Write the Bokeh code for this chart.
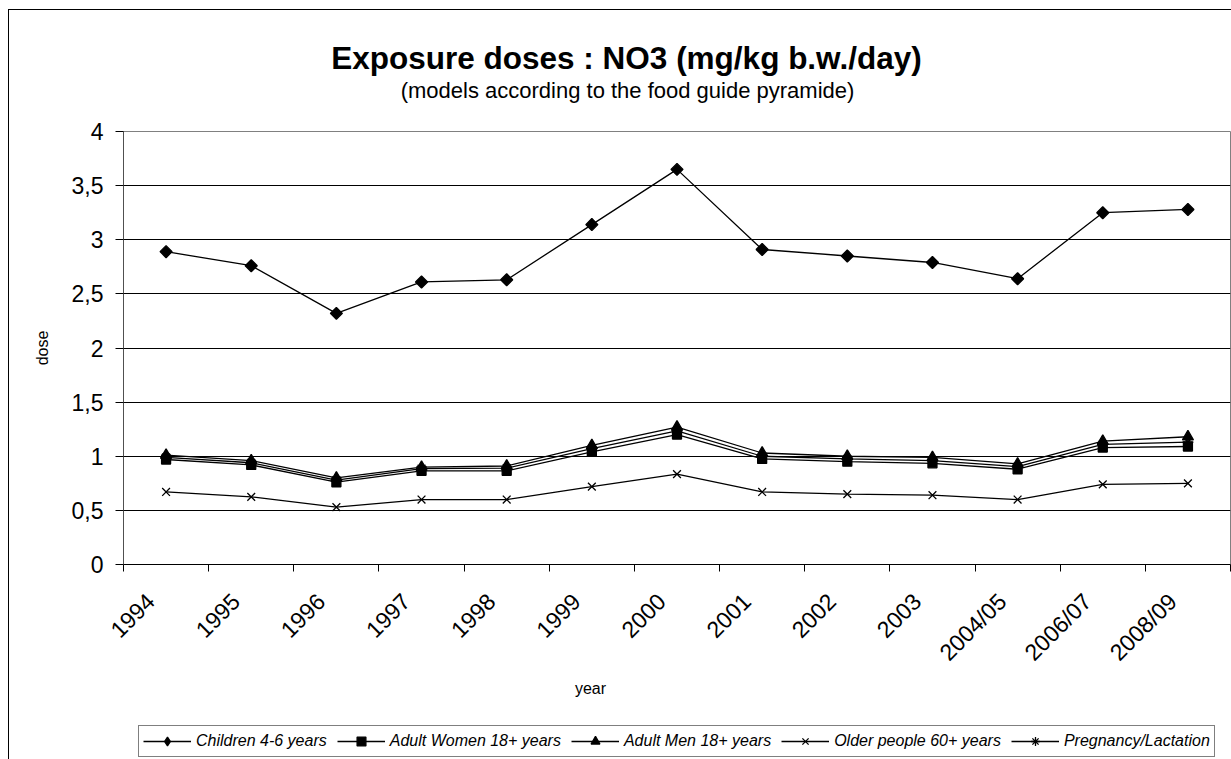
import math
from bokeh.plotting import figure
from bokeh.layouts import column
from bokeh.models import (Legend, LegendItem, FixedTicker, Range1d, Label)
from bokeh.embed import file_html
from bokeh.resources import INLINE

# ---- data ----
categories = ["1994", "1995", "1996", "1997", "1998", "1999", "2000", "2001",
              "2002", "2003", "2004/05", "2006/07", "2008/09"]
children = [2.89, 2.76, 2.32, 2.61, 2.63, 3.14, 3.65, 2.91, 2.85, 2.79, 2.64, 3.25, 3.28]
adult_women = [0.97, 0.92, 0.76, 0.865, 0.865, 1.04, 1.20, 0.975, 0.95, 0.935, 0.88, 1.08, 1.09]
adult_men = [1.01, 0.96, 0.80, 0.90, 0.91, 1.10, 1.27, 1.03, 1.00, 0.99, 0.93, 1.14, 1.18]
older_people = [0.67, 0.625, 0.53, 0.60, 0.60, 0.72, 0.835, 0.67, 0.65, 0.64, 0.60, 0.74, 0.75]
pregnancy = [0.99, 0.94, 0.78, 0.885, 0.89, 1.07, 1.235, 1.00, 0.975, 0.96, 0.905, 1.11, 1.13]

series_names = ["Children 4-6 years", "Adult Women 18+ years", "Adult Men 18+ years",
                "Older people 60+ years", "Pregnancy/Lactation"]
y_tick_values = [0, 0.5, 1, 1.5, 2, 2.5, 3, 3.5, 4]
y_tick_labels = ["0", "0,5", "1", "1,5", "2", "2,5", "3", "3,5", "4"]

title_text = "Exposure doses : NO3 (mg/kg b.w./day)"
subtitle_text = "(models according to the food guide pyramide)"
x_title = "year"
y_title = "dose"

FONT = "Liberation Sans"
W = 1231
TOP_H, MAIN_H, BOT_H = 117, 560, 82
LABEL_SHIFT = -0.18   # rotated category labels sit slightly left of the category centre

xs = [i + 0.5 for i in range(len(categories))]
all_series = [children, adult_women, adult_men, older_people, pregnancy]

# ---------- header (title + subtitle); frames of the column are aligned at x=123 ----------
top = figure(width=W, height=TOP_H, output_backend="svg", toolbar_location=None,
             x_range=Range1d(0, 1), y_range=Range1d(0, 1),
             x_axis_type=None, y_axis_type=None,
             min_border=0, min_border_left=0, min_border_right=0,
             min_border_top=0, min_border_bottom=0)
top.outline_line_color = None
top.background_fill_color = None
top.border_fill_color = None
top.add_layout(Label(x=503, y=60, x_units="screen", y_units="screen", text=title_text,
                     text_align="center", text_baseline="middle", text_font=FONT,
                     text_font_size="31.5px", text_font_style="bold", text_color="black"))
top.add_layout(Label(x=504, y=27, x_units="screen", y_units="screen", text=subtitle_text,
                     text_align="center", text_baseline="middle", text_font=FONT,
                     text_font_size="22px", text_color="black"))

# ---------- main chart ----------
p = figure(width=W, height=MAIN_H, output_backend="svg", toolbar_location=None,
           x_range=Range1d(0, len(categories)), y_range=Range1d(0, 4),
           min_border_left=123, min_border_top=14, min_border_bottom=113,
           min_border_right=1)
p.background_fill_color = "white"
p.border_fill_color = None
p.outline_line_color = "#808080"
p.outline_line_width = 1

label_pos = [x + LABEL_SHIFT for x in xs]
xa = p.xaxis[0]
xa.ticker = FixedTicker(ticks=label_pos, minor_ticks=list(range(len(categories) + 1)))
xa.major_label_overrides = {x: c for x, c in zip(label_pos, categories)}
xa.major_tick_out = 0
xa.major_tick_in = 0
xa.minor_tick_out = 7
xa.minor_tick_in = 0
xa.minor_tick_line_color = "black"
xa.axis_line_color = "black"
xa.major_label_orientation = math.pi / 4
xa.major_label_text_font = FONT
xa.major_label_text_font_size = "23px"
xa.major_label_text_color = "black"
xa.major_label_standoff = 26

ya = p.yaxis[0]
ya.ticker = FixedTicker(ticks=y_tick_values)
ya.major_label_overrides = {v: l for v, l in zip(y_tick_values, y_tick_labels)}
ya.major_tick_out = 8
ya.major_tick_in = 0
ya.minor_tick_out = 0
ya.minor_tick_in = 0
ya.axis_line_color = "#505050"
ya.major_tick_line_color = "black"
ya.major_label_text_font = FONT
ya.major_label_text_font_size = "23px"
ya.major_label_text_color = "black"
ya.major_label_standoff = 12
ya.axis_label = y_title
ya.axis_label_text_font = FONT
ya.axis_label_text_font_size = "16px"
ya.axis_label_text_font_style = "normal"
ya.axis_label_text_color = "black"
ya.axis_label_standoff = 18

p.xgrid.visible = False
p.ygrid.ticker = FixedTicker(ticks=y_tick_values[1:-1])
p.ygrid.grid_line_color = "black"
p.ygrid.grid_line_width = 1

markers = ["square", "square", "triangle", "x", "asterisk"]
angles = [math.pi / 4, 0, 0, 0, 0]
msizes = [8.5, 9, 11, 11, 11]
for vals, m, a, s in zip(all_series, markers, angles, msizes):
    p.line(xs, vals, line_color="black", line_width=1.3)
    p.scatter(xs, vals, marker=m, size=s, angle=a, fill_color="black",
              line_color="black", line_width=1.3)

# ---------- footer (x title + legend) ----------
# the data ranges here lie outside the data so only the legend samples show
bot = figure(width=W, height=BOT_H, output_backend="svg", toolbar_location=None,
             x_range=Range1d(-3, -2), y_range=Range1d(-3, -2),
             x_axis_type=None, y_axis_type=None,
             min_border=0, min_border_left=0, min_border_right=0,
             min_border_top=0, min_border_bottom=0)
bot.outline_line_color = None
bot.background_fill_color = None
bot.border_fill_color = None
bot.add_layout(Label(x=467, y=71, x_units="screen", y_units="screen", text=x_title,
                     text_align="center", text_baseline="middle", text_font=FONT,
                     text_font_size="16px", text_color="black"))

legend_markers = ["diamond", "square", "triangle", "x", "asterisk"]
items = []
for name, vals, m in zip(series_names, all_series, legend_markers):
    lr = bot.line(xs, vals, line_color="black", line_width=1.3)
    sr = bot.scatter(xs, vals, marker=m, fill_color="black", line_color="black",
                     line_width=1.3)
    items.append(LegendItem(label=name, renderers=[lr, sr]))

legend = Legend(items=items, orientation="horizontal", location=(15, 2))
legend.border_line_color = "black"
legend.border_line_width = 1
legend.background_fill_color = "white"
legend.background_fill_alpha = 1
legend.label_text_font = FONT
legend.label_text_font_size = "16px"
legend.label_text_font_style = "italic"
legend.label_text_color = "black"
legend.glyph_width = 48
legend.glyph_height = 22
legend.label_standoff = 5
legend.spacing = 10
legend.padding = 4
legend.margin = 0
legend.label_height = 20
bot.add_layout(legend, "center")

layout = column(top, p, bot, spacing=0)
layout.styles = {
    "background-color": "white",
    "background-image": "linear-gradient(#000, #000), linear-gradient(#000, #000)",
    "background-size": "1px 750px, 1223px 1px",
    "background-position": "8px 9px, 8px 9px",
    "background-repeat": "no-repeat, no-repeat",
}

open("out.html", "w").write(file_html(layout, INLINE))
